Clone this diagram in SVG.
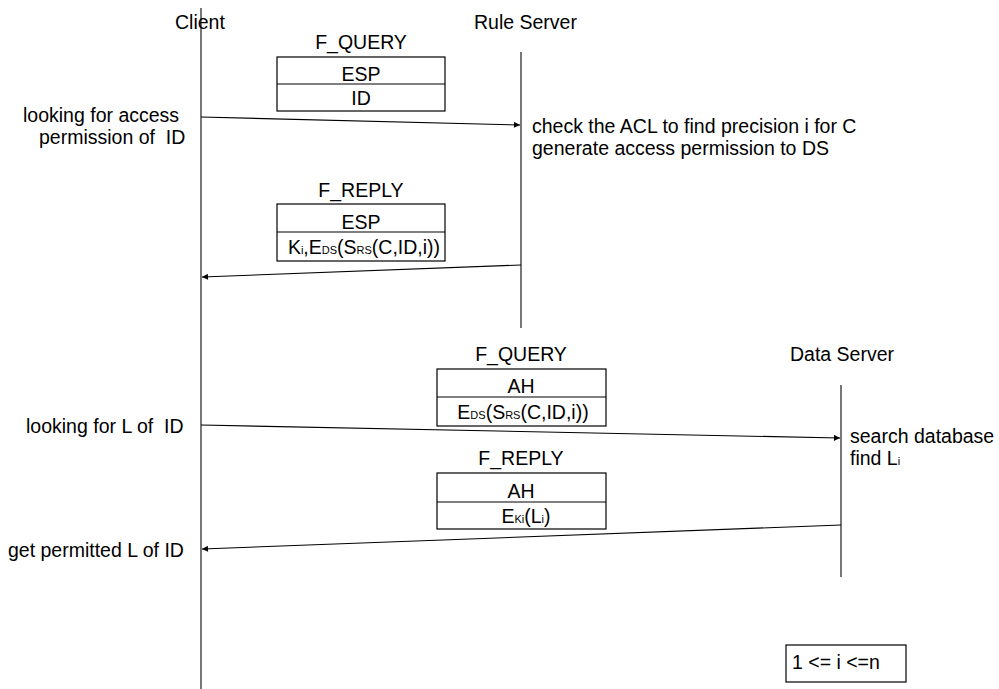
<svg xmlns="http://www.w3.org/2000/svg" width="999" height="689" viewBox="0 0 999 689">
<style>
text{font-family:"Liberation Sans",Arial,sans-serif;font-size:19.5px;fill:#000;white-space:pre}
.s{font-size:11px}
.life{stroke:#555;stroke-width:1.6;fill:none}
.msg{stroke:#000;stroke-width:1.1;fill:none;marker-end:url(#ah)}
.box{fill:#fff;stroke:#000;stroke-width:1.2}
.c{text-anchor:middle}
</style>
<defs>
<marker id="ah" viewBox="0 0 10 10" refX="10" refY="5" markerWidth="8" markerHeight="6" orient="auto" markerUnits="userSpaceOnUse">
<path d="M0,0 L10,5 L0,10 z" fill="#000"/>
</marker>
</defs>
<rect width="999" height="689" fill="#fff"/>
<g id="client">
<line class="life" x1="201" y1="8" x2="201" y2="689"/>
<text x="175" y="29">Client</text>
</g>
<g id="rule-server">
<line class="life" x1="521" y1="52" x2="521" y2="328"/>
<text x="474" y="29">Rule Server</text>
</g>
<g id="data-server">
<line class="life" x1="841" y1="385" x2="841" y2="577"/>
<text x="790" y="361">Data Server</text>
</g>
<g id="q1">
<text class="c" x="361" y="49">F_QUERY</text>
<rect class="box" x="277" y="57" width="168" height="54"/>
<line stroke="#000" stroke-width="1.2" x1="277" y1="84" x2="445" y2="84"/>
<text class="c" x="361" y="81">ESP</text>
<text class="c" x="361" y="105">ID</text>
</g>
<g id="r1">
<text class="c" x="361" y="197">F_REPLY</text>
<rect class="box" x="277" y="204" width="168" height="57"/>
<line stroke="#000" stroke-width="1.2" x1="277" y1="232" x2="445" y2="232"/>
<text class="c" x="361" y="229">ESP</text>
<text class="c" x="364" y="254">K<tspan class="s">i</tspan>,E<tspan class="s">DS</tspan>(S<tspan class="s">RS</tspan>(C,ID,i))</text>
</g>
<g id="q2">
<text class="c" x="521" y="361">F_QUERY</text>
<rect class="box" x="437" y="369" width="169" height="57"/>
<line stroke="#000" stroke-width="1.2" x1="437" y1="397" x2="606" y2="397"/>
<text class="c" x="521" y="393">AH</text>
<text class="c" x="523" y="419">E<tspan class="s">DS</tspan>(S<tspan class="s">RS</tspan>(C,ID,i))</text>
</g>
<g id="r2">
<text class="c" x="521" y="465">F_REPLY</text>
<rect class="box" x="437" y="473" width="169" height="56"/>
<line stroke="#000" stroke-width="1.2" x1="437" y1="502" x2="606" y2="502"/>
<text class="c" x="521" y="498">AH</text>
<text class="c" x="526" y="523">E<tspan class="s">Ki</tspan>(L<tspan class="s">i</tspan>)</text>
</g>
<g id="notes">
<text x="23" y="122">looking for access</text>
<text x="39" y="144">permission of  ID</text>
<text x="532" y="133">check the ACL to find precision i for C</text>
<text x="532" y="155">generate access permission to DS</text>
<text x="26" y="433">looking for L of  ID</text>
<text x="850" y="443">search database</text>
<text x="850" y="465">find L<tspan class="s">i</tspan></text>
<text x="8" y="557">get permitted L of ID</text>
</g>
<g id="range">
<rect class="box" x="786" y="645" width="120" height="37"/>
<text x="792" y="669">1 &lt;= i &lt;=n</text>
</g>
<g id="connectors">
<line class="msg" x1="201" y1="117" x2="520" y2="125"/>
<line class="msg" x1="521" y1="265" x2="202" y2="277"/>
<line class="msg" x1="201" y1="425" x2="840" y2="438"/>
<line class="msg" x1="841" y1="525" x2="202" y2="549"/>
</g>
</svg>
